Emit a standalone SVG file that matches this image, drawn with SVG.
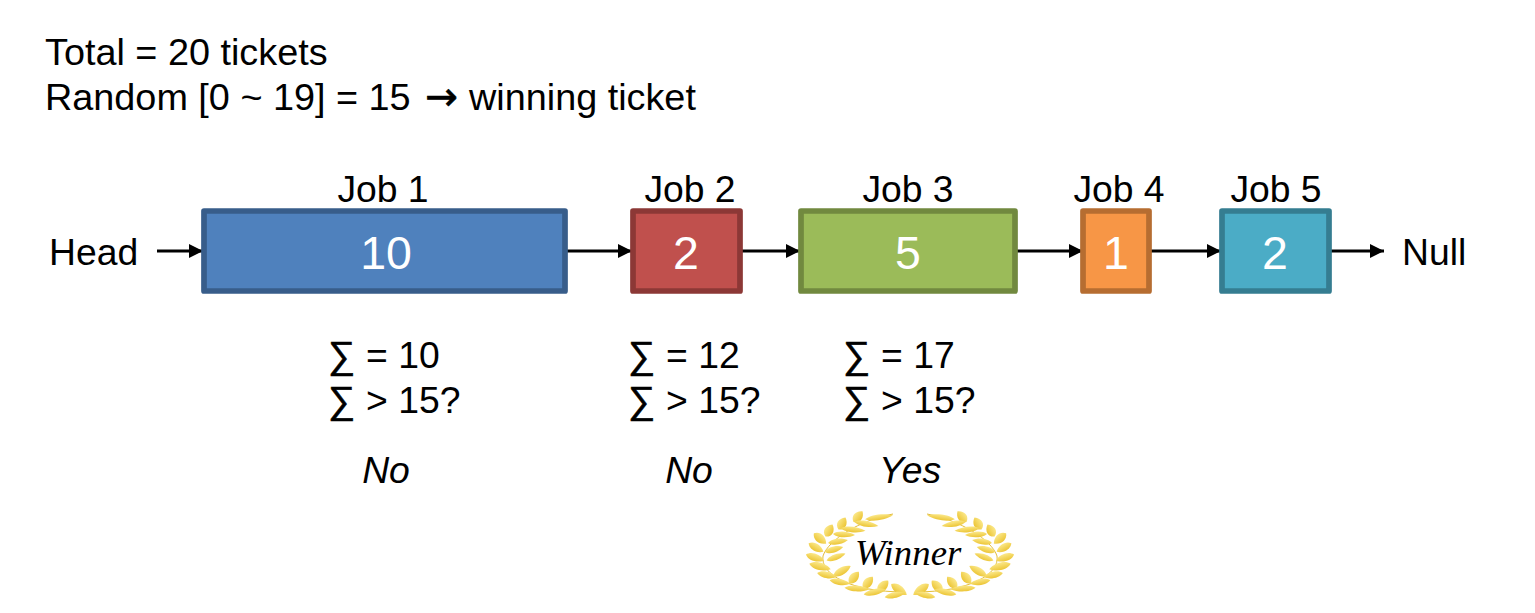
<svg xmlns="http://www.w3.org/2000/svg" xmlns:xlink="http://www.w3.org/1999/xlink" width="1535" height="613" viewBox="0 0 1535 613">
<style>
text{font-family:"Liberation Sans",Arial,sans-serif;font-size:37.3px;fill:#000}
.h{font-size:37.8px}
.ar{font-family:"DejaVu Sans",sans-serif;font-size:39px;stroke:#000;stroke-width:.7}
.sg{font-size:38px;stroke:#000;stroke-width:.6}
.m{text-anchor:middle}
.n{text-anchor:middle;fill:#fff;font-size:46.5px}
.i{font-style:italic;text-anchor:middle}
.w{font-family:"Liberation Serif","Times New Roman",serif;font-style:italic;font-size:36.8px}
.box{stroke-width:5.7;stroke-linejoin:round}
.c{stroke:#000;stroke-width:3;fill:none;marker-end:url(#a)}
.s{stroke:#e3bd3a;stroke-width:1;fill:none}
</style>
<defs>
<marker id="a" markerUnits="userSpaceOnUse" markerWidth="14" markerHeight="14" refX="14" refY="7" orient="auto"><path d="M0 0L14 7L0 14Z" fill="#000"/></marker>
<linearGradient id="g" x1="0" y1="0" x2="0" y2="1"><stop offset="0" stop-color="#fbe88a"/><stop offset="1" stop-color="#ecc535"/></linearGradient>
<path id="l" d="M-10 0C-6 -5 4 -5 10 0C4 5 -6 5 -10 0Z" fill="url(#g)"/>
<g id="branch">
<path class="s" d="M893 514C860 520 828 540 823 556C820 574 850 592 905 592"/>
<use xlink:href="#l" transform="translate(879 517.3) rotate(-8) scale(1.4 .75)"/>
<use xlink:href="#l" transform="translate(858 516.7) rotate(-50) scale(.7 1.2)"/>
<use xlink:href="#l" transform="translate(866.5 524) rotate(10) scale(1.2 .75)"/>
<use xlink:href="#l" transform="translate(842 523.5) rotate(-60) scale(.7 1.2)"/>
<use xlink:href="#l" transform="translate(853 529.5) rotate(6) scale(1.25 .75)"/>
<use xlink:href="#l" transform="translate(829 530.5) rotate(-60) scale(.7 1.2)"/>
<use xlink:href="#l" transform="translate(844 534.5) rotate(3) scale(1.1 .75)"/>
<use xlink:href="#l" transform="translate(820 538.5) rotate(40) scale(.8 1.15)"/>
<use xlink:href="#l" transform="translate(838 541.5) rotate(-8) scale(1 .8)"/>
<use xlink:href="#l" transform="translate(816 547.5) rotate(30) scale(.85 1)"/>
<use xlink:href="#l" transform="translate(834 549.5) rotate(-15) scale(.95 .8)"/>
<use xlink:href="#l" transform="translate(815 557.5) rotate(18) scale(.95 1)"/>
<use xlink:href="#l" transform="translate(836 557) rotate(-20) scale(1 .8)"/>
<use xlink:href="#l" transform="translate(820 566.5) rotate(14) scale(1.1 1)"/>
<use xlink:href="#l" transform="translate(842 571) rotate(-30) scale(1 1)"/>
<use xlink:href="#l" transform="translate(827 575) rotate(12) scale(1 .85)"/>
<use xlink:href="#l" transform="translate(854 577.5) rotate(-50) scale(.75 1.15)"/>
<use xlink:href="#l" transform="translate(840 582) rotate(10) scale(1.05 .8)"/>
<use xlink:href="#l" transform="translate(868 582.5) rotate(-50) scale(.75 1.15)"/>
<use xlink:href="#l" transform="translate(857 588.5) rotate(3) scale(1.25 .8)"/>
<use xlink:href="#l" transform="translate(883 586) rotate(-45) scale(.75 1.15)"/>
<use xlink:href="#l" transform="translate(875 592) rotate(-12) scale(1.15 .8)"/>
<use xlink:href="#l" transform="translate(899 589.5) rotate(35) scale(.95 1.1)"/>
<use xlink:href="#l" transform="translate(895 595) rotate(-12) scale(1.05 .8)"/>
</g>
</defs>
<rect width="1535" height="613" fill="#fff"/>
<text class="h" x="45" y="65">Total = 20 tickets</text>
<text class="h" x="45" y="110">Random [0 ~ 19] = 15 <tspan class="ar" x="425">→</tspan><tspan x="469">winning ticket</tspan></text>
<g id="connectors">
<path class="c" d="M157 251H203"/>
<path class="c" d="M566 251H632"/>
<path class="c" d="M740 251H800"/>
<path class="c" d="M1015 251H1083"/>
<path class="c" d="M1149 251H1221"/>
<path class="c" d="M1329 251H1384"/>
</g>
<g id="head"><text x="49" y="265">Head</text></g>
<g id="null"><text x="1402" y="265">Null</text></g>
<g id="job1"><rect class="box" x="204" y="211" width="361" height="80" fill="#4f81bd" stroke="#385d8a"/><text class="m" x="383" y="201.5">Job 1</text><text class="n" x="386" y="269">10</text></g>
<g id="job2"><rect class="box" x="633" y="211" width="107" height="80" fill="#c0504d" stroke="#8c3836"/><text class="m" x="690" y="201.5">Job 2</text><text class="n" x="686" y="269">2</text></g>
<g id="job3"><rect class="box" x="801" y="211" width="214" height="80" fill="#9bbb59" stroke="#71893f"/><text class="m" x="908" y="201.5">Job 3</text><text class="n" x="908" y="269">5</text></g>
<g id="job4"><rect class="box" x="1083" y="211" width="66" height="80" fill="#f79646" stroke="#b66d31"/><text class="m" x="1119" y="201.5">Job 4</text><text class="n" x="1116" y="269">1</text></g>
<g id="job5"><rect class="box" x="1222" y="211" width="107" height="80" fill="#4bacc6" stroke="#357d91"/><text class="m" x="1276" y="201.5">Job 5</text><text class="n" x="1275" y="269">2</text></g>
<g id="calc1"><text x="328" y="368"><tspan class="sg">∑</tspan><tspan x="366">= 10</tspan></text><text x="328" y="413"><tspan class="sg">∑</tspan><tspan x="366">&gt; 15?</tspan></text><text class="i" x="386" y="483">No</text></g>
<g id="calc2"><text x="628" y="368"><tspan class="sg">∑</tspan><tspan x="666">= 12</tspan></text><text x="628" y="413"><tspan class="sg">∑</tspan><tspan x="666">&gt; 15?</tspan></text><text class="i" x="689" y="483">No</text></g>
<g id="calc3"><text x="843" y="368"><tspan class="sg">∑</tspan><tspan x="881">= 17</tspan></text><text x="843" y="413"><tspan class="sg">∑</tspan><tspan x="881">&gt; 15?</tspan></text><text class="i" x="910" y="483">Yes</text></g>
<g id="winner">
<use xlink:href="#branch"/>
<use xlink:href="#branch" transform="translate(1820 0) scale(-1 1)"/>
<text class="w" x="855" y="565">Winner</text>
</g>
</svg>
